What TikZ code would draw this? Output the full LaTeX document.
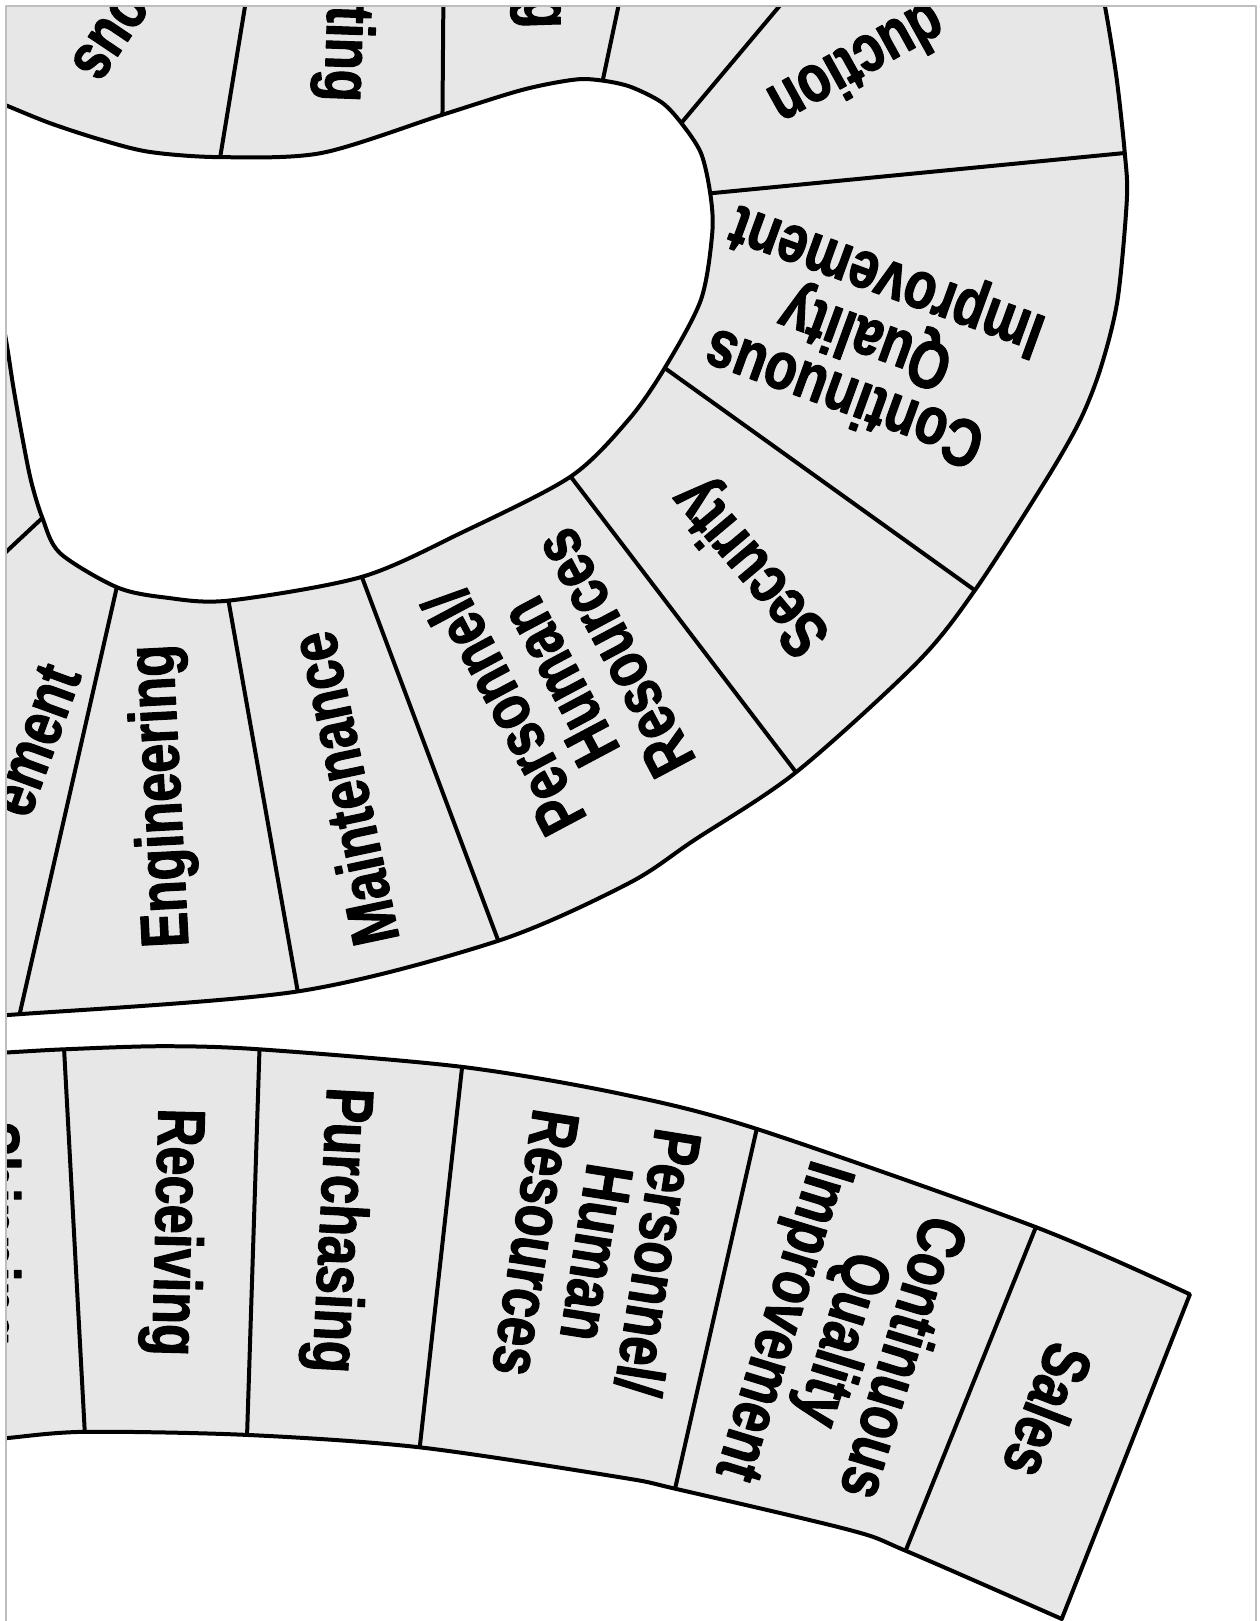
\documentclass[tikz,border=0pt]{standalone}
\usepackage{fontspec}
\newfontfamily\lab[FakeStretch=0.78, BoldFeatures={FakeBold=1.6}]{Liberation Sans}
\definecolor{bandgrey}{RGB}{231,231,231}
\definecolor{framegrey}{RGB}{190,190,190}
\begin{document}
\begin{tikzpicture}[x=0.02cm, y=-0.02cm, line join=round,
  lbl/.style={font=\lab\bfseries\fontsize{37}{34}\selectfont, align=center, inner sep=0pt},
  edge/.style={draw=black, line width=2.2pt}]
\useasboundingbox (0,0) rectangle (1218,1568);
\begin{scope}
\clip (6,6) rectangle (1215,1580);
% upper band (outer region)
\filldraw[fill=bandgrey, edge] (-60,-60) -- (1058,-60) -- plot[smooth] coordinates {(1063,-15) (1069,7) (1080,75) (1088,148) (1090,193) (1081,290) (1065,355) (1045,406) (1012,464) (943,571) (887,641) (770,747) (671,813) (607,855) (482,910) (288,959) (19,981) (-20,982)} -- (-60,982) -- cycle;
% inner white blob
\filldraw[fill=white, edge] (-60,85) -- plot[smooth] coordinates {(-20,92) (6,102) (48,119) (97,135) (145,147) (213,152) (311,148) (428,111) (505,87) (556,77) (583,78) (610,84) (640,99) (659,119) (678,148) (687,187) (689,225) (678,290) (643,356) (608,406) (552,461) (447,515) (350,558) (221,581) (160,578) (113,568) (58,535) (41,501) (30,465) (21,420) (13,375) (7,336) (0,295)} -- (-60,295) -- cycle;
% upper dividers
\draw[edge] (41,501) -- (-20,558);
\draw[edge] (113,568) -- (19,981);
\draw[edge] (221,581) -- (288,959);
\draw[edge] (350,558) -- (482,910);
\draw[edge] (552,461) -- (770,747);
\draw[edge] (643,356) -- (943,571);
\draw[edge] (687,187) -- (1088,148);
\draw[edge] (659,119) -- (769,-12);
\draw[edge] (583,78) -- (602,-12);
\draw[edge] (428,111) -- (429,-12);
\draw[edge] (213,152) -- (240,-12);
% lower band
\filldraw[fill=bandgrey, edge] (-60,1019) -- plot[smooth] coordinates {(-20,1019) (7,1018) (62,1015) (156,1012) (251,1015) (447,1032) (600,1058) (732,1092) (1002,1187) (1151,1252)} -- plot[smooth] coordinates {(1027,1566) (876,1500) (822,1480) (653,1440) (600,1429) (406,1400) (239,1388) (82,1385) (7,1391) (-20,1393)} -- (-60,1393) -- cycle;
% lower dividers
\draw[edge] (62,1015) -- (82,1385);
\draw[edge] (251,1015) -- (239,1388);
\draw[edge] (447,1032) -- (406,1400);
\draw[edge] (732,1092) -- (653,1440);
\draw[edge] (1002,1187) -- (876,1500);
% upper labels
\node[lbl, rotate=236] (t1) at (107,34) {ous};
\node[lbl, rotate=268] (t2) at (332,52) {ting};
\node[lbl, rotate=272] (t3) at (518,12) {g};
\node[lbl, rotate=209] (t4) at (830,64) {duction};
\node[lbl, rotate=160] (t5) at (838,325) {Continuous\\Quality\\Improvement};
\node[lbl, rotate=130] (t6) at (728,547) {Security};
\node[lbl, rotate=118] (t7) at (540,660) {Personnel/\\Human\\Resources};
\node[lbl, rotate=102] (t8) at (332,763) {Maintenance};
\node[lbl, rotate=93] (t9) at (158,770) {Engineering};
\node[lbl, rotate=70] (t10) at (34,716) {ement};
% lower labels
\node[lbl, rotate=-90] (b1) at (-10,1193) {Shipping};
\node[lbl, rotate=-91.5] (b2) at (167,1192) {Receiving};
\node[lbl, rotate=-93] (b3) at (326,1190) {Purchasing};
\node[lbl, rotate=-99] (b4) at (578,1212) {Personnel/\\Human\\Resources};
\node[lbl, rotate=-107] (b5) at (812,1295) {Continuous\\Quality\\Improvement};
\node[lbl, rotate=-111] (b6) at (1014,1365) {Sales};
\end{scope}
% frame
\draw[framegrey, line width=1.2pt] (6,1580) -- (6,6) -- (1215,6) -- (1215,1580);
\end{tikzpicture}
\end{document}
